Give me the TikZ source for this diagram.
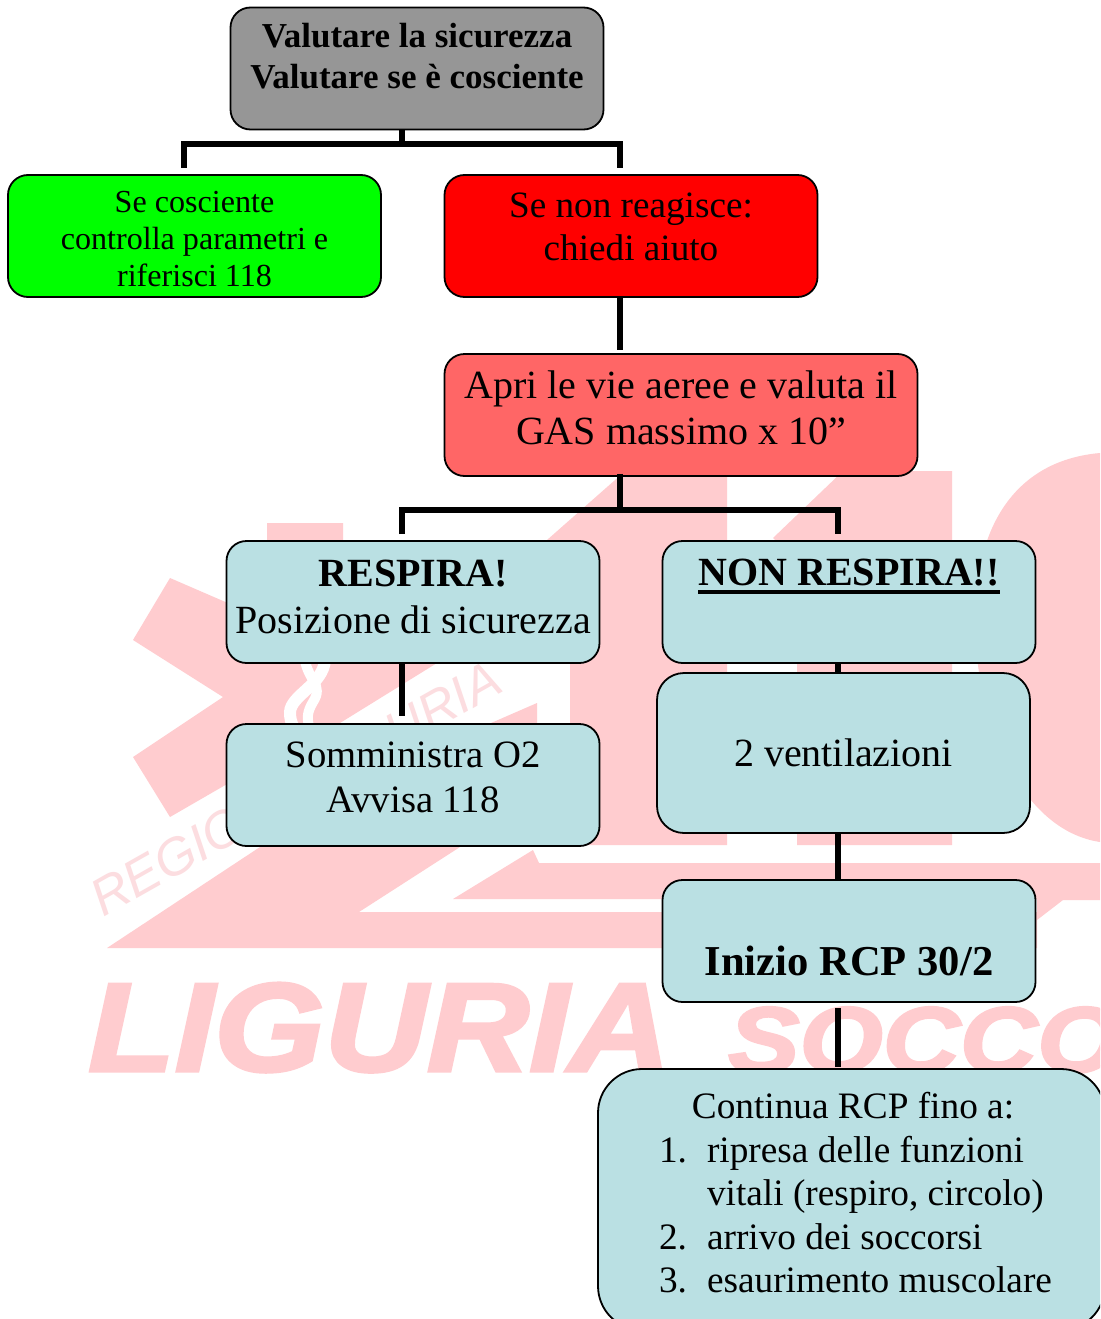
\documentclass[tikz,border=0pt]{standalone}
\usepackage{fontspec}
\setmainfont{Liberation Serif}
\newfontfamily\wmlight{Liberation Sans}
\newfontface\wmheavy[FakeBold=2.5]{Liberation Sans Bold Italic}
\definecolor{wmpink}{HTML}{FFCCCF}
\definecolor{wmtext}{HTML}{FCDDE0}
\definecolor{boxgray}{HTML}{969696}
\definecolor{boxgreen}{HTML}{00FF00}
\definecolor{boxred}{HTML}{FF0000}
\definecolor{boxsalmon}{HTML}{FF6666}
\definecolor{boxteal}{HTML}{BAE0E3}
% text block centred on the node, shifted by #1 upwards
\newcommand{\blk}[2]{\raisebox{#1}[0pt][0pt]{\begin{tabular}{@{}c@{}}#2\end{tabular}}}
\newcommand{\ulrule}[1]{\setbox0\hbox{#1}\rlap{\rule[-8pt]{\wd0}{4pt}}\box0}
\newcommand{\fs}[2]{\fontsize{#1}{#2}\selectfont}
\tikzset{
  flowbox/.style={draw=black,line width=1.8pt,rounded corners=20pt,inner sep=0pt,
    minimum width=373pt,minimum height=122pt,text=black},
  tealbox/.style={flowbox,fill=boxteal},
  link/.style={draw=black,line width=6pt,line cap=butt,line join=miter},
  wmshape/.style={fill=wmpink,draw=none},
  wmword/.style={inner sep=0pt,anchor=base west,text=wmpink}
}
\begin{document}
\begin{tikzpicture}[x=1pt,y=-1pt]
\clip (0,0) rectangle (1100,1319);
\fill[white] (0,0) rectangle (1100,1319);
% ---- watermark ----
\fill[wmshape] (267,523) -- (343,523) -- (343,600) -- (437,663) -- (340,723) -- (340,800) -- (260,765)
  -- (170,817) -- (133,757) -- (223,697) -- (133,640) -- (170,578) -- (267,620) -- cycle;
\draw[white,line width=12pt] (325,660) .. controls (323,685) and (291,695) .. (290,712) .. controls (290,718) and (291,722) .. (293,726);
\draw[white,line width=10pt] (305,660) .. controls (308,680) and (324,685) .. (313,702) .. controls (307,712) and (307,718) .. (309,726);
\fill[wmshape] (537,703) -- (537,730) -- (475,730) -- cycle;
\node[inner sep=0pt,anchor=base west,text=wmtext,rotate=29.5,font=\wmlight\itshape\fs{52}{60}] (wmregione) at (103,918) {REGIONE LIGURIA};
\fill[wmshape] (623,473) -- (727,473) -- (727,845) -- (570,845) -- (570,600) -- (547,540) -- cycle;
\fill[wmshape] (843,471) -- (952,471) -- (952,845) -- (797,845) -- (797,560) -- (773,538) -- cycle;
\fill[wmshape] (1100,453) .. controls (1020,460) and (975,520) .. (975,620) .. controls (975,720) and (1020,830) .. (1100,842) -- cycle;
\fill[wmshape] (107,948) -- (260,847) -- (460,847) -- (359,912) -- (1037,912) -- (1037,948) -- cycle;
\fill[wmshape] (453,899) -- (533,850) -- (539,863) -- (1100,863) -- (1100,900) -- (1063,900) -- (1037,920) -- (1037,899) -- cycle;
\node[wmword,font=\wmheavy\fs{126}{130}] (wmliguria) at (88,1071) {\scalebox{1.125}[1]{LIGURIA}};
\node[wmword,font=\wmheavy\fs{93}{100}] (wmsoccorso) at (728,1072) {\scalebox{1.15}[1]{SOCCO}};
% ---- boxes ----
\node[flowbox,fill=boxgray,font=\bfseries\fs{35}{41}] (valuta) at (417,68.5) {\blk{2pt}{Valutare la sicurezza\\Valutare se è cosciente}};
\node[flowbox,fill=boxgreen,font=\fs{32.1}{37}] (cosciente) at (194.5,236) {\blk{-12pt}{Se cosciente\\controlla parametri e\\riferisci 118}};
\node[flowbox,fill=boxred,font=\fs{37.2}{43}] (nonreagisce) at (631,236) {\blk{-1pt}{Se non reagisce:\\chiedi aiuto}};
\node[flowbox,fill=boxsalmon,font=\fs{40}{46},minimum width=473pt] (apri) at (681,415) {\blk{-4pt}{Apri le vie aeree e valuta il\\GAS massimo x 10”}};
\node[tealbox,font=\fs{40}{47}] (respira) at (413,602) {\blk{-4.5pt}{\textbf{RESPIRA!}\\Posizione di sicurezza}};
\node[tealbox,font=\fs{38.7}{45}] (somministra) at (413,785) {\blk{-2pt}{Somministra O2\\Avvisa 118}};
\node[tealbox,font=\bfseries\fs{40}{47}] (nonrespira) at (849,602) {\blk{19.5pt}{\ulrule{NON RESPIRA!!}}};
\node[tealbox,font=\fs{40}{46},minimum height=160pt,rounded corners=27pt] (ventilazioni) at (843.5,753) {\blk{-11pt}{2 ventilazioni}};
\node[tealbox,font=\bfseries\fs{42.6}{48}] (inizio) at (849,941) {\blk{-31pt}{Inizio RCP 30/2}};
\node[tealbox,font=\fs{37.3}{43.5},minimum width=507pt,minimum height=261pt,rounded corners=44pt] (continua) at (851.5,1199.5) {\raisebox{-4pt}[0pt][0pt]{\hspace*{8pt}\begin{tabular}{@{}r@{\hspace{20pt}}l@{}}\multicolumn{2}{c}{\hspace*{-5pt}Continua RCP fino a:}\\1.&ripresa delle funzioni\\&vitali (respiro, circolo)\\2.&arrivo dei soccorsi\\3.&esaurimento muscolare\end{tabular}}};
% ---- connector ends ----
\coordinate (jtop) at (402,144);
\coordinate (endgreen) at (184,167.5);
\coordinate (endred) at (620,167.5);
\coordinate (jmid) at (620,510);
\coordinate (endresp) at (402,534);
\coordinate (endnon) at (838,534);
% ---- connectors ----
\draw[link] (valuta.south -| jtop) -- (jtop);
\draw[link] (endgreen) |- (jtop) -| (endred);
\draw[link] (nonreagisce.south -| endred) -- ([yshift=3pt]apri.north -| endred);
\draw[link] ([yshift=3pt]apri.south -| jmid) -- ([yshift=-3pt]jmid);
\draw[link] (endresp) |- (jmid) -| (endnon);
\draw[link] (respira.south -| endresp) -- ([yshift=7pt]somministra.north -| endresp);
\draw[link] (nonrespira.south -| endnon) -- (ventilazioni.north -| endnon);
\draw[link] (ventilazioni.south -| endnon) -- (inizio.north -| endnon);
\draw[link] ([yshift=-5pt]inizio.south -| endnon) -- ([yshift=1pt]continua.north -| endnon);
\end{tikzpicture}
\end{document}
